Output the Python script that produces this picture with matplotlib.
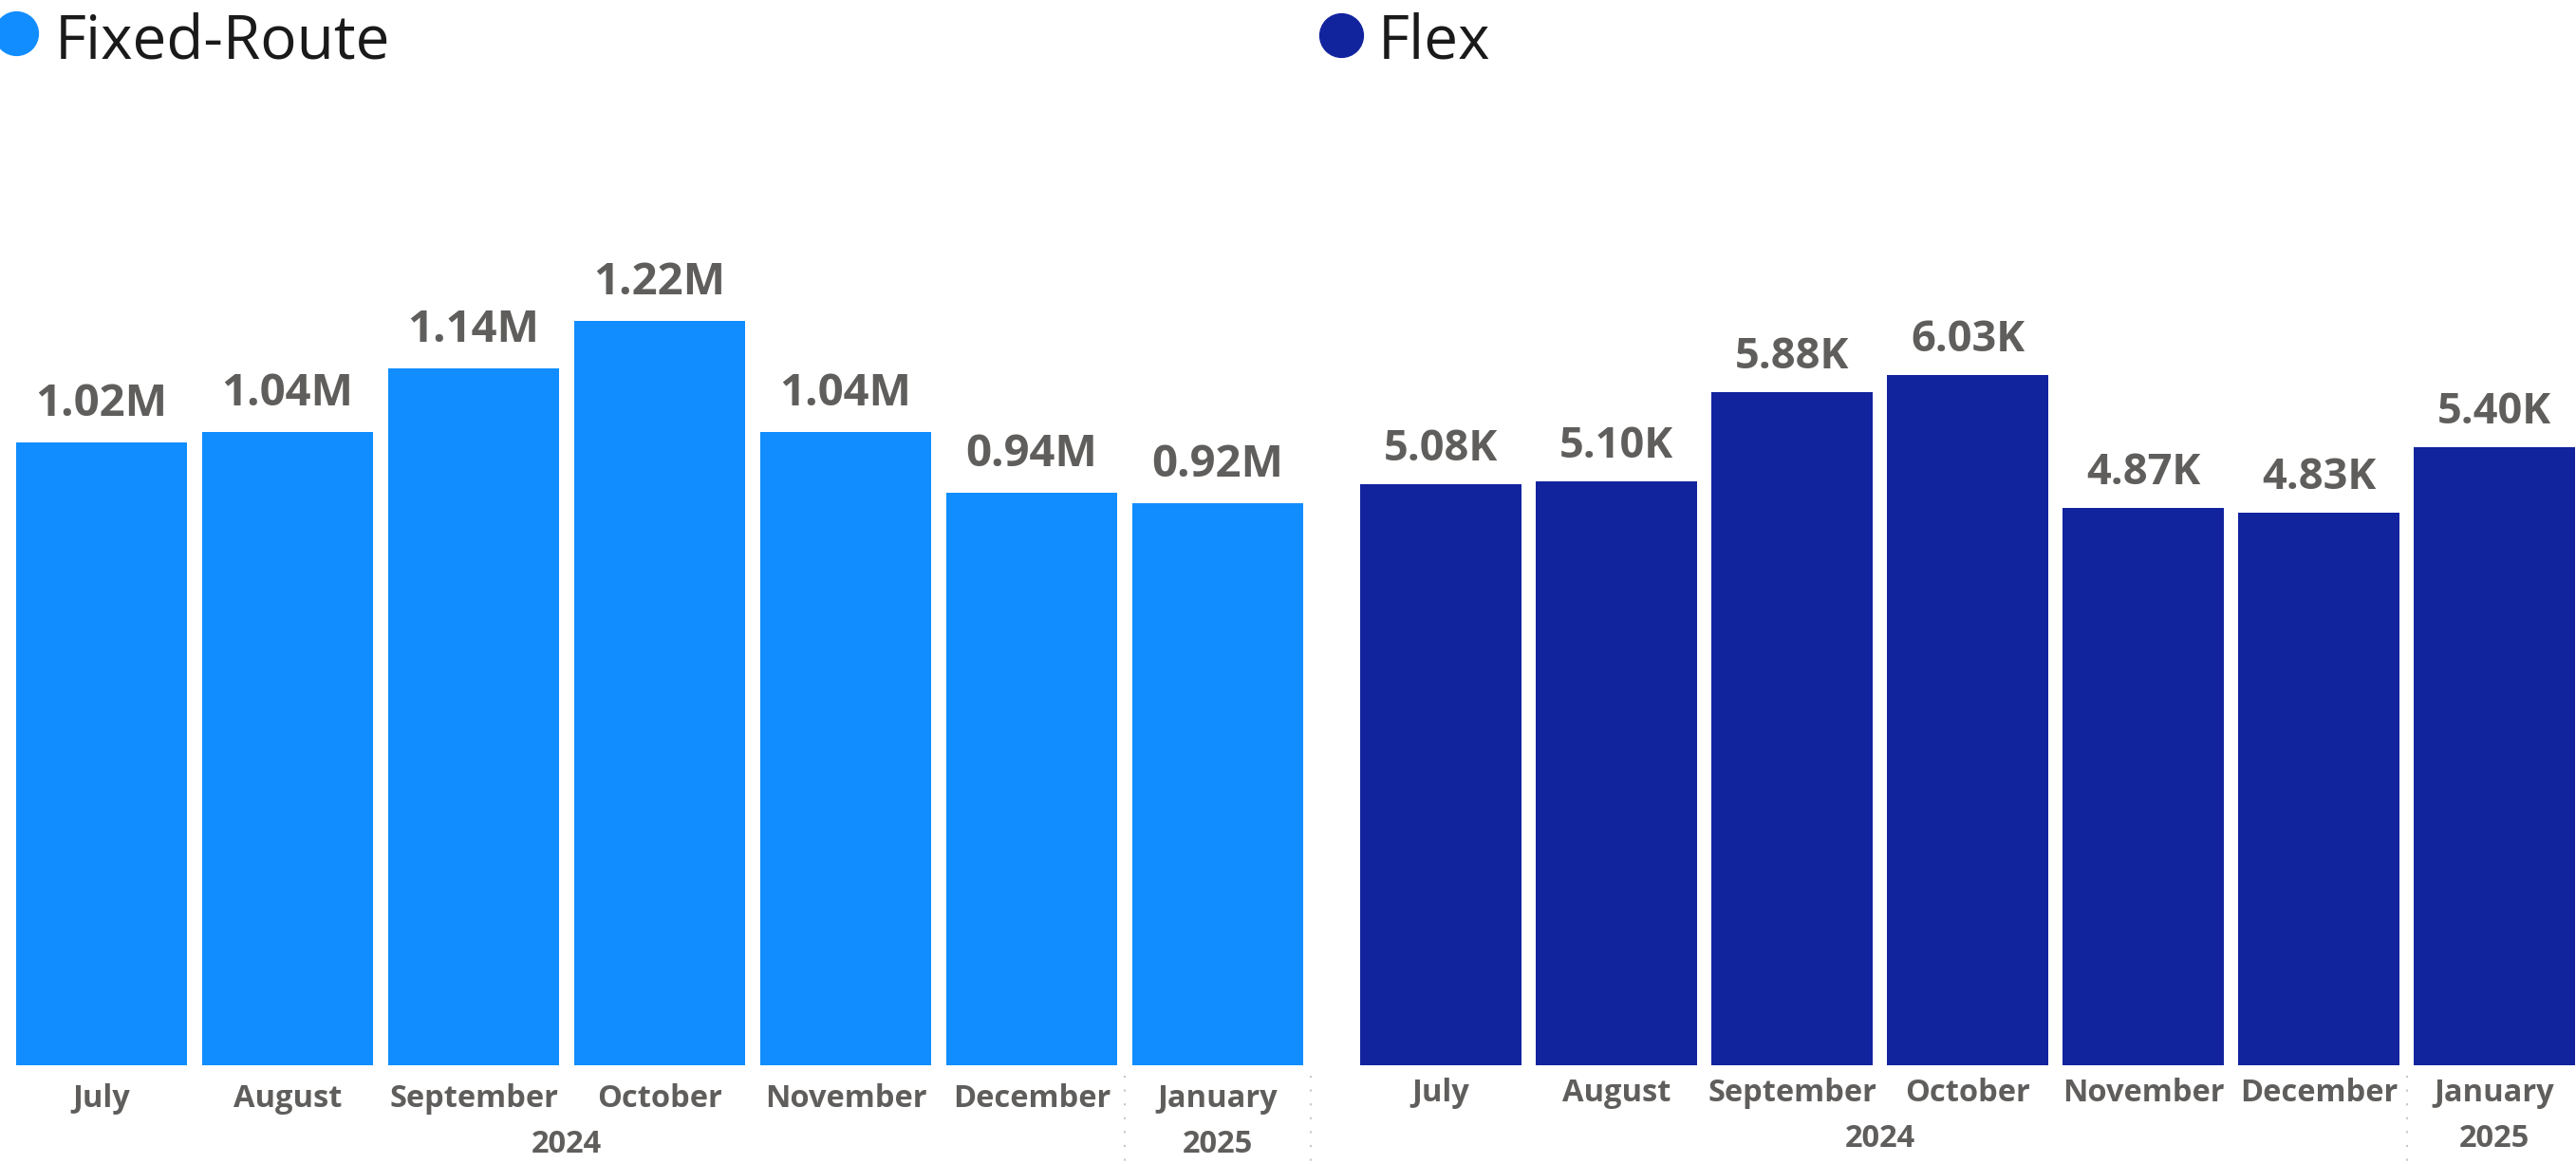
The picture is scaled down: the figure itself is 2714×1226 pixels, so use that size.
import matplotlib
matplotlib.use("Agg")
import matplotlib.pyplot as plt
from matplotlib.lines import Line2D
import matplotlib.transforms as mtransforms

months = ["July", "August", "September", "October", "November", "December", "January"]
years = ["2024", "2025"]
fixed_route = [1021000, 1038000, 1143000, 1220000, 1038000, 938000, 922000]
flex = [5080, 5100, 5880, 6030, 4870, 4830, 5400]

W, H = 2714, 1226
FIX_COLOR = "#118DFF"
FLEX_COLOR = "#12239E"
GREY = "#605E5C"

plt.rcParams['font.family'] = ['Open Sans', 'DejaVu Sans']

fig = plt.figure(figsize=(W / 100, H / 100), dpi=100)

def px_axes(left, right, bottom, top):
    # 画素座標からaxes位置へ
    return [left / W, 1 - bottom / H, (right - left) / W, (bottom - top) / H]

def draw_panel(rect, values, px_per_unit, fmt, color, bar_w, lab_size, lab_gap,
               month_y, year_y):
    ax = fig.add_axes(rect)
    x = list(range(len(values)))
    ax.bar(x, values, width=bar_w, color=color)
    ax.set_xlim(-0.5, len(values) - 0.5)
    h_px = rect[3] * H
    ax.set_ylim(0, h_px / px_per_unit)
    ax.axis("off")

    # 値ラベル
    for xi, v in zip(x, values):
        ax.annotate(fmt(v), (xi, v), xytext=(0, lab_gap), textcoords="offset points",
                    ha="center", va="baseline", fontsize=lab_size,
                    fontweight="bold", color=GREY)

    # 月・年ラベル
    trans = mtransforms.blended_transform_factory(ax.transData, fig.transFigure)
    for xi, m in zip(x, months):
        ax.text(xi, 1 - month_y / H, m, transform=trans, ha="center", va="center",
                fontsize=23.5, fontweight="bold", color=GREY)
    ax.text(2.5, 1 - year_y / H, years[0], transform=trans, ha="center", va="center",
            fontsize=23.5, fontweight="bold", color=GREY)
    ax.text(6, 1 - year_y / H, years[1], transform=trans, ha="center", va="center",
            fontsize=23.5, fontweight="bold", color=GREY)

    # 点線の区切り
    for xb in [5.5, 6.5]:
        ax.add_line(Line2D([xb, xb], [1 - 1133 / H, 0], transform=trans,
                           color="#C8C6C4", linewidth=1.5, linestyle=(0, (1, 6)),
                           clip_on=False))
    return ax

draw_panel(px_axes(9, 1381, 1122, 150), fixed_route, 642.6 / 1e6,
           lambda v: f"{v / 1e6:.2f}M", FIX_COLOR, 0.918, 34, 20, 1157, 1206)
draw_panel(px_axes(1425.5, 2720.5, 1122, 150), flex, 120.5 / 1e3,
           lambda v: f"{v / 1e3:.2f}K", FLEX_COLOR, 0.92, 32.5, 18, 1151, 1199)

# 凡例
for cx, cy, col, tx, label in [(17, 35, FIX_COLOR, 58, "Fixed-Route"),
                               (1413, 37, FLEX_COLOR, 1452, "Flex")]:
    fig.add_artist(Line2D([cx / W], [1 - cy / H], marker="o", markersize=33,
                          color=col, linestyle="none"))
    fig.text(tx / W, 1 - 61 / H, label, ha="left", va="baseline", fontsize=46,
             color="#1a1a1a")

fig.savefig("out.png", dpi=100)
plt.close()
